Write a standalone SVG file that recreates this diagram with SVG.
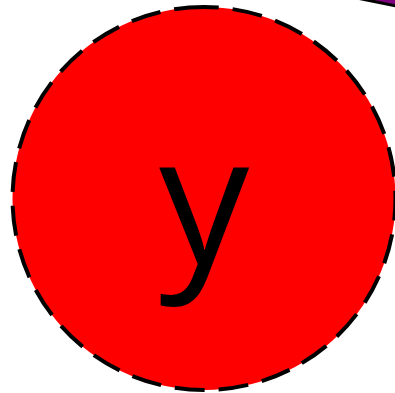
<svg xmlns="http://www.w3.org/2000/svg" width="395" height="393" viewBox="0 0 395 393">
<style>
.node{fill:#ff0000;stroke:#000;stroke-width:4;stroke-dasharray:30 14}
.label{font-family:"Open Sans","Noto Sans",sans-serif;font-size:180px;fill:#000;text-anchor:middle}
</style>
<g id="connectors">
<path d="M340,-7.9 L400,4.1" fill="none" stroke="#000" stroke-width="8"/>
<path d="M340,-9.4 L400,2.6" fill="none" stroke="#800080" stroke-width="5"/>
</g>
<g id="node-y">
<path class="node" d="M204,7 A191.5,191.5 0 1,0 204,390 A191.5,191.5 0 1,0 204,7 Z"/>
<text class="label" x="204" y="264">y</text>
</g>
</svg>
